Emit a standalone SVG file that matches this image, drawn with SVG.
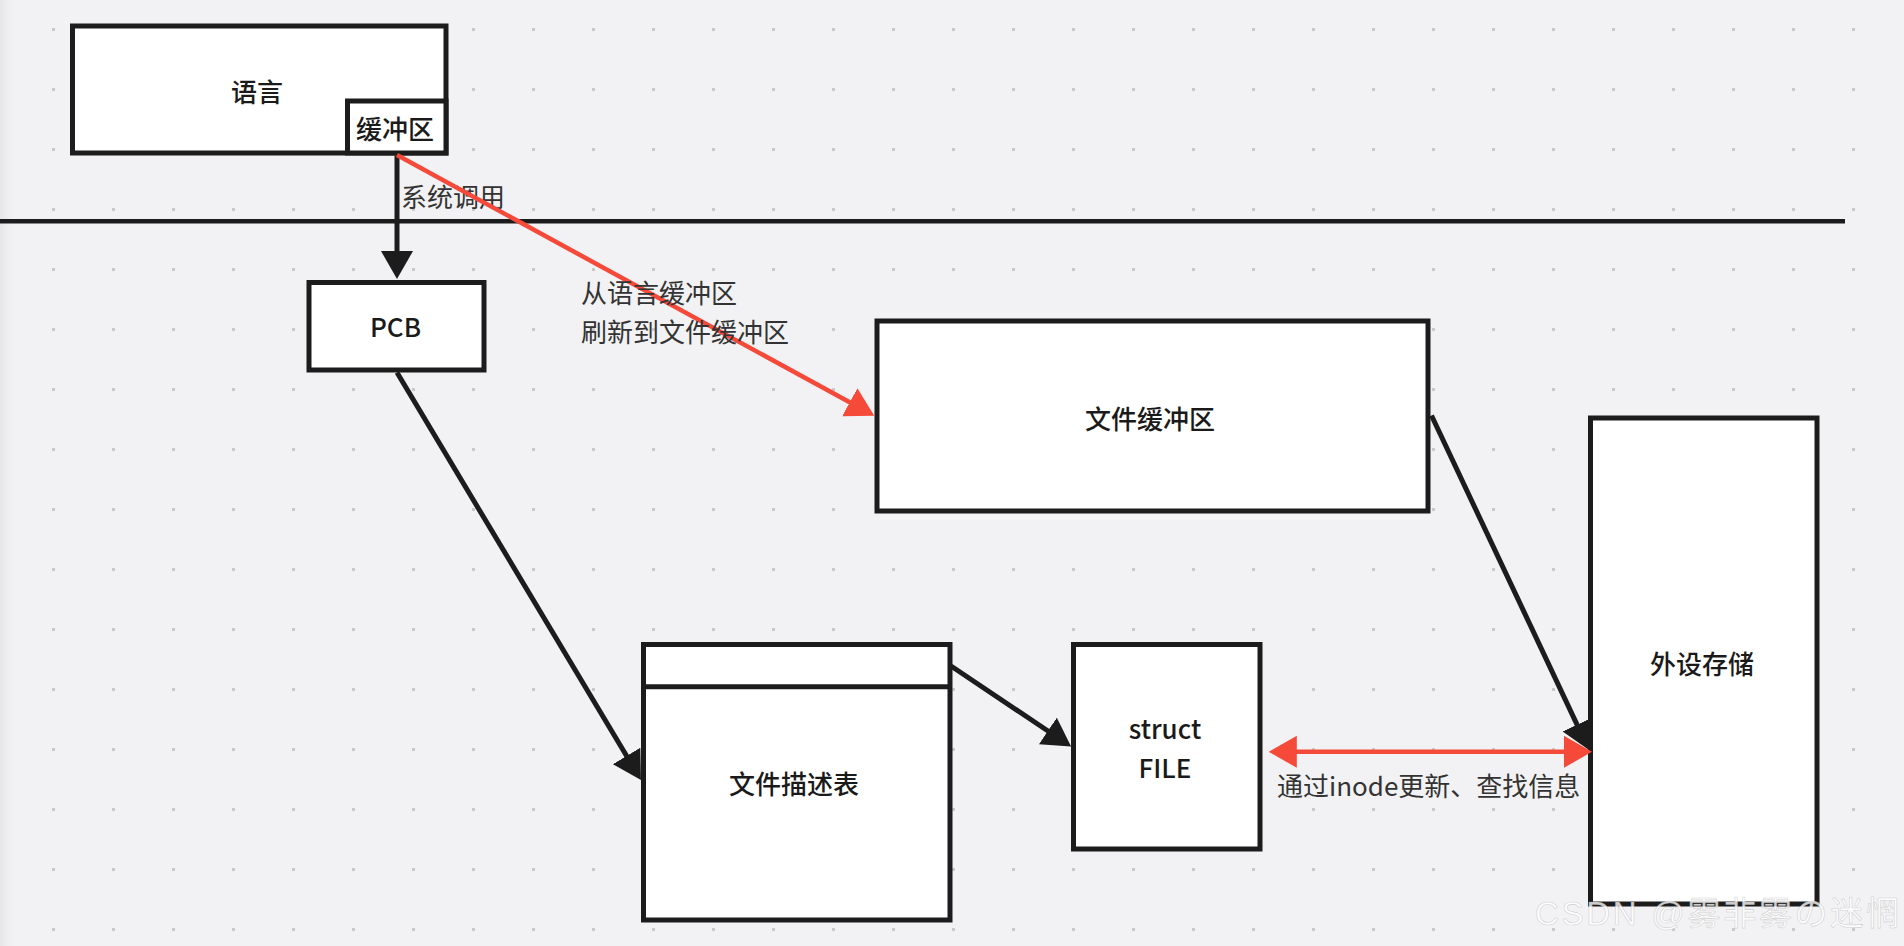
<svg xmlns="http://www.w3.org/2000/svg" width="1904" height="946" viewBox="0 0 1904 946">
<style>
.node{fill:#ffffff;stroke:#1c1c1c;stroke-width:5}
.lbl{font-family:"Noto Sans CJK SC","Noto Sans",sans-serif;font-size:26px;font-weight:500;fill:#1a1a1a;text-anchor:middle;dominant-baseline:central}
.elbl{font-family:"Noto Sans CJK SC","Noto Sans",sans-serif;font-size:26px;fill:#333333;dominant-baseline:central}
.conn{fill:none;stroke:#1c1c1c;stroke-width:5}
.red{fill:none;stroke:#f5493a;stroke-width:4.5}
.wm{font-family:"Liberation Sans","Noto Sans CJK SC",sans-serif;font-size:33px}
</style>
<defs>
<pattern id="dots" x="52" y="28" width="60" height="60" patternUnits="userSpaceOnUse">
<rect x="0" y="0" width="3" height="3" fill="#c9c9cb"/>
</pattern>
<linearGradient id="edge" x1="0" y1="0" x2="1" y2="0">
<stop offset="0" stop-color="#e6e6e8"/>
<stop offset="1" stop-color="#f2f2f4" stop-opacity="0"/>
</linearGradient>
<marker id="ah" viewBox="0 0 28 32" refX="1" refY="16" markerWidth="28" markerHeight="32" markerUnits="userSpaceOnUse" orient="auto">
<path d="M0,0 L28,16 L0,32 Z" fill="#1c1c1c"/>
</marker>
<marker id="ahr" viewBox="0 0 28 32" refX="1" refY="16" markerWidth="28" markerHeight="32" markerUnits="userSpaceOnUse" orient="auto-start-reverse">
<path d="M0,0 L28,16 L0,32 Z" fill="#f5493a"/>
</marker>
</defs>
<rect x="0" y="0" width="1904" height="946" fill="#f2f2f4"/>
<rect x="0" y="0" width="18" height="946" fill="url(#edge)"/>
<rect x="0" y="0" width="1904" height="946" fill="url(#dots)"/>
<line x1="0" y1="221.3" x2="1845" y2="221.3" stroke="#1c1c1c" stroke-width="4.5"/>

<g id="node-lang">
<rect class="node" x="72.5" y="26" width="373.5" height="127"/>
<text class="lbl" x="257" y="90">语言</text>
</g>
<g id="node-langbuf">
<rect class="node" x="347.5" y="101" width="98.5" height="52"/>
<text class="lbl" x="395" y="127">缓冲区</text>
</g>
<g id="node-pcb">
<rect class="node" x="309" y="282.5" width="175" height="87.5"/>
<text class="lbl" x="395.5" y="325">PCB</text>
</g>
<g id="node-filebuf">
<rect class="node" x="877" y="321" width="551" height="190"/>
<text class="lbl" x="1150" y="417">文件缓冲区</text>
</g>
<g id="node-fdtable">
<rect class="node" x="643.5" y="644.5" width="306.5" height="275.5"/>
<line x1="643.5" y1="686.7" x2="950" y2="686.7" stroke="#1c1c1c" stroke-width="5"/>
<text class="lbl" x="794" y="782">文件描述表</text>
</g>
<g id="node-structfile">
<rect class="node" x="1073.5" y="644.5" width="186.5" height="204.5"/>
<text class="lbl" x="1165" y="727">struct</text>
<text class="lbl" x="1165" y="766">FILE</text>
</g>
<g id="node-storage">
<rect class="node" x="1590.5" y="418" width="226.5" height="486"/>
<text class="lbl" x="1702" y="662">外设存储</text>
</g>

<g id="connectors">
<line class="conn" x1="397" y1="155.5" x2="397" y2="252" marker-end="url(#ah)"/>
<text class="elbl" x="401" y="195">系统调用</text>
<line class="conn" x1="397" y1="372.5" x2="627.1" y2="756.8" marker-end="url(#ah)"/>
<line class="conn" x1="951" y1="666" x2="1048.7" y2="731.5" marker-end="url(#ah)"/>
<line class="conn" x1="1431.5" y1="415.5" x2="1577.5" y2="725.6" marker-end="url(#ah)"/>
<line class="red" x1="397" y1="155" x2="850.6" y2="402.8" marker-end="url(#ahr)"/>
<text class="elbl" x="581" y="291.5">从语言缓冲区</text>
<text class="elbl" x="581" y="330.5">刷新到文件缓冲区</text>
<line class="red" x1="1295.8" y1="751.8" x2="1565" y2="751.8" marker-start="url(#ahr)" marker-end="url(#ahr)"/>
<text class="elbl" x="1277" y="784.3">通过inode更新、查找信息</text>
</g>

<text class="wm" x="1535" y="925" textLength="364" lengthAdjust="spacing" fill="#ffffff" fill-opacity="0.8" stroke="#b4b4b4" stroke-opacity="0.6" stroke-width="0.6">CSDN @雾非雾の迷惘</text>
</svg>
